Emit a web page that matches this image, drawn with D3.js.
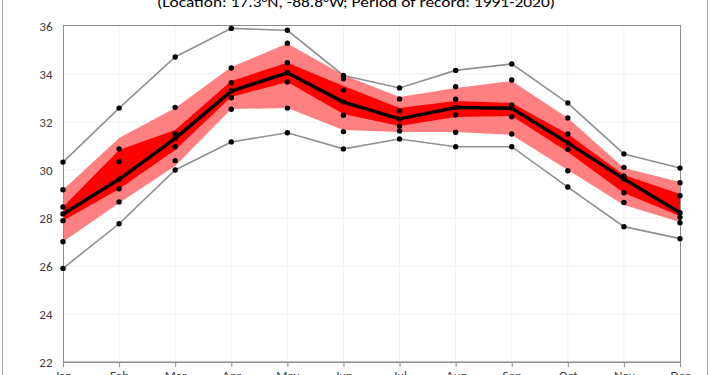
<!DOCTYPE html>
<html>
<head>
<meta charset="utf-8">
<script src="https://cdn.jsdelivr.net/npm/d3@7"></script>
<style>
  body { margin: 0; background: #fff; }
  svg { display: block; }
</style>
</head>
<body>
<div id="chart"></div>
<script>
var width = 710;
var height = 375;

var months = ['Jan', 'Feb', 'Mar', 'Apr', 'May', 'Jun', 'Jul', 'Aug', 'Sep', 'Oct', 'Nov', 'Dec'];
var yTicks = [22, 24, 26, 28, 30, 32, 34, 36];

// extremes (gray lines)
var maxVals = [30.33, 32.58, 34.71, 35.90, 35.82, 33.94, 33.42, 34.15, 34.42, 32.79, 30.67, 30.08];
var minVals = [25.90, 27.76, 30.00, 31.17, 31.55, 30.88, 31.29, 30.97, 30.97, 29.29, 27.64, 27.14];
// mean (black line)
var meanVals = [28.17, 29.61, 31.32, 33.29, 34.05, 32.83, 32.13, 32.60, 32.57, 31.13, 29.63, 28.22];
// marker-only series
var dot1 = [29.18, 30.88, 32.61, 34.25, 35.28, 33.80, 32.96, 33.47, 33.75, 32.17, 30.11, 29.47];
var dot2 = [28.46, 30.35, 31.50, 33.64, 34.47, 33.33, 32.46, 32.95, 32.71, 31.50, 29.75, 28.93];
var dot3 = [27.89, 29.22, 30.97, 33.01, 33.67, 32.28, 31.83, 32.29, 32.22, 30.86, 29.05, 28.03];
var dot4 = [27.01, 28.67, 30.39, 32.53, 32.58, 31.60, 31.63, 31.57, 31.50, 29.97, 28.65, 27.80];
// shaded bands
var outerHi = [29.18, 31.33, 32.58, 34.29, 35.27, 33.96, 33.04, 33.42, 33.71, 32.17, 30.08, 29.50];
var innerHi = [28.46, 30.83, 31.67, 33.71, 34.47, 33.50, 32.58, 32.88, 32.79, 31.50, 29.79, 29.00];
var innerLo = [27.89, 29.21, 30.83, 33.04, 33.67, 32.33, 31.83, 32.21, 32.25, 30.75, 29.04, 28.08];
var outerLo = [27.01, 28.63, 30.17, 32.54, 32.58, 31.67, 31.58, 31.58, 31.46, 30.00, 28.54, 27.83];

var svg = d3.select('#chart').append('svg')
    .attr('width', width)
    .attr('height', height);

var x = d3.scalePoint().domain(months).range([63, 680]);
var y = d3.scaleLinear().domain([22, 36]).range([362, 26]);

// outer chart border
svg.append('rect')
    .attr('x', 2.5).attr('y', -5)
    .attr('width', 705).attr('height', height + 10)
    .attr('fill', 'none')
    .attr('stroke', '#a6a6a6');

// title (cut at top)
svg.append('text')
    .attr('x', 356)
    .attr('y', 7)
    .attr('text-anchor', 'middle')
    .style('font-family', 'Carlito, Calibri, "Liberation Sans", sans-serif')
    .style('font-size', '15px')
    .style('fill', '#000')
    .attr('textLength', 398)
    .attr('lengthAdjust', 'spacingAndGlyphs')
    .text('(Location: 17.3°N, -88.8°W; Period of record: 1991-2020)');

// gridlines
svg.append('g').selectAll('line.h')
    .data(yTicks.slice(1, -1))
    .join('line')
    .attr('x1', 63).attr('x2', 680)
    .attr('y1', function (d) { return y(d); })
    .attr('y2', function (d) { return y(d); })
    .attr('stroke', '#eeeeee');

svg.append('g').selectAll('line.v')
    .data(months.slice(1, -1))
    .join('line')
    .attr('y1', 26).attr('y2', 362)
    .attr('x1', function (d) { return x(d); })
    .attr('x2', function (d) { return x(d); })
    .attr('stroke', '#f2f2f2');

function band(hi, lo) {
  return d3.area()
      .x(function (d, i) { return x(months[i]); })
      .y0(function (d, i) { return y(lo[i]); })
      .y1(function (d, i) { return y(hi[i]); })(months);
}

svg.append('path').attr('d', band(outerHi, outerLo)).attr('fill', '#ff8080');
svg.append('path').attr('d', band(innerHi, innerLo)).attr('fill', '#ff0000');

var line = d3.line()
    .x(function (d, i) { return x(months[i]); })
    .y(function (d) { return y(d); });

svg.append('path').attr('d', line(maxVals))
    .attr('fill', 'none').attr('stroke', '#909090').attr('stroke-width', 1.6);
svg.append('path').attr('d', line(minVals))
    .attr('fill', 'none').attr('stroke', '#909090').attr('stroke-width', 1.6);
svg.append('path').attr('d', line(meanVals))
    .attr('fill', 'none').attr('stroke', '#000').attr('stroke-width', 3.5)
    .attr('stroke-linejoin', 'round');

// plot frame
svg.append('rect')
    .attr('x', 63.5).attr('y', 25.5)
    .attr('width', 617).attr('height', 336.5)
    .attr('fill', 'none')
    .attr('stroke', '#8c8c8c');

// markers
[maxVals, dot1, dot2, meanVals, dot3, dot4, minVals].forEach(function (series) {
  svg.append('g').selectAll('circle')
      .data(series)
      .join('circle')
      .attr('cx', function (d, i) { return x(months[i]); })
      .attr('cy', function (d) { return y(d); })
      .attr('r', 2.7)
      .attr('fill', '#000');
});

// axes
var yAxis = svg.append('g')
    .attr('transform', 'translate(63.5,0)')
    .call(d3.axisLeft(y).tickValues(yTicks).tickSize(0).tickPadding(11).tickFormat(d3.format('d')));
yAxis.select('.domain').remove();
yAxis.selectAll('text')
    .style('font-family', 'Carlito, Calibri, "Liberation Sans", sans-serif')
    .style('font-size', '13px')
    .style('fill', '#404040');

var xAxis = svg.append('g')
    .attr('transform', 'translate(0,362)')
    .call(d3.axisBottom(x).tickSize(5).tickPadding(4));
xAxis.select('.domain').attr('stroke', '#8c8c8c');
xAxis.selectAll('.tick line').attr('stroke', '#8c8c8c');
xAxis.selectAll('text')
    .style('font-family', 'Carlito, Calibri, "Liberation Sans", sans-serif')
    .style('font-size', '13px')
    .style('fill', '#404040');
</script>
</body>
</html>
